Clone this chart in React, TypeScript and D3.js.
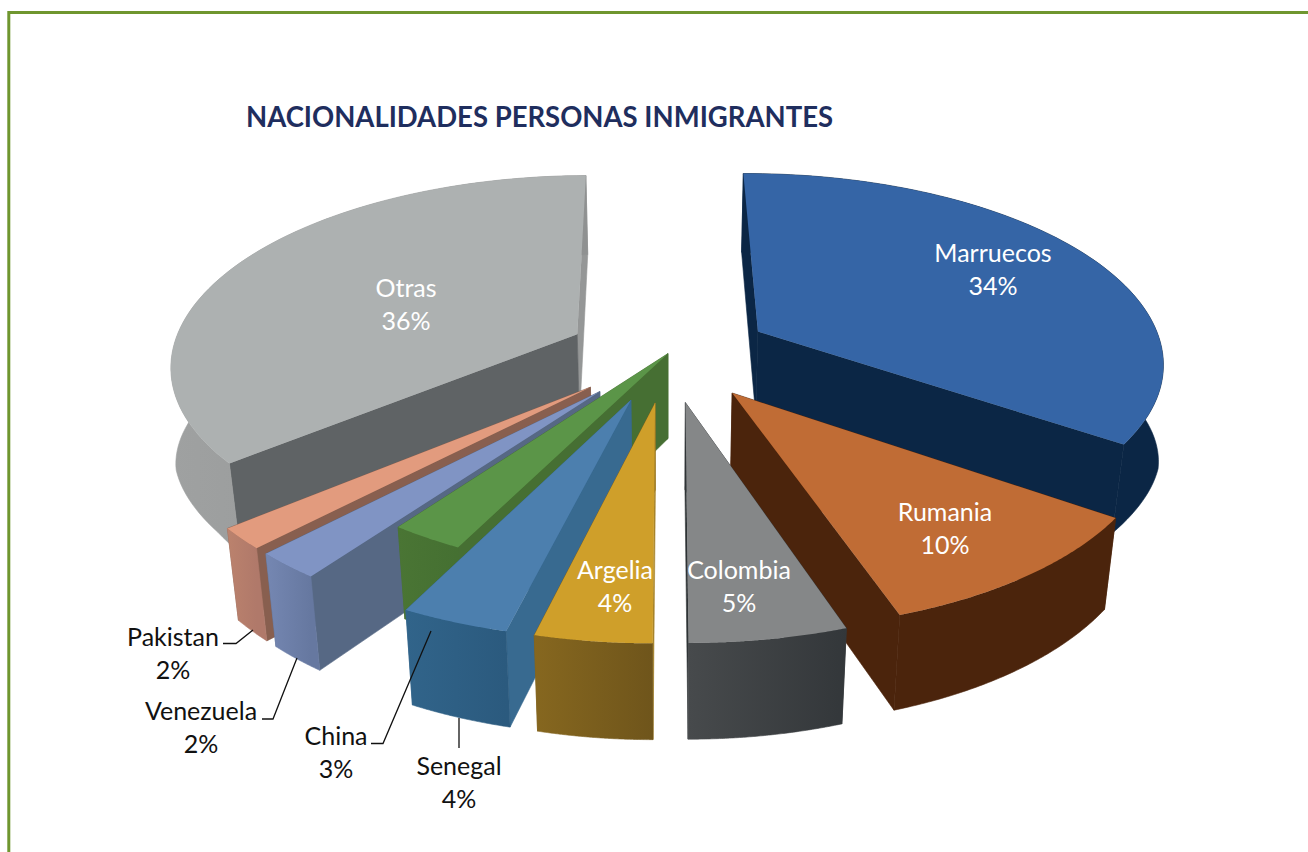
import React from "react";
import * as d3 from "d3";

// ---- data ----
const categories = ["Marruecos", "Rumania", "Colombia", "Argelia", "Senegal", "China", "Venezuela", "Pakistan", "Otras"];
const sliceShares = [34.8, 10.17, 5.17, 3.83, 3.56, 2.53, 2.22, 1.75, 35.97];
const percentLabels = ["34%", "10%", "5%", "4%", "4%", "3%", "2%", "2%", "36%"];
const explosion = [0.255, 0.255, 0.255, 0.255, 0.255, 0, 0.255, 0.255, 0.25];

// ---- styling ----
const topColors = ["#3565a6", "#c06c35", "#858788", "#cf9f2a", "#4c7fae", "#5b9548", "#8094c4", "#e29b7e", "#adb1b1"];
const startWallColors = ["#0b2645", "#4b240c", "#34383a", "#a8842a", "#386a90", "#466f33", "#566884", "#885f4f", "#5f6365"];
const endWallColors = ["#0b2645", "#4b240c", "#2f3436", "#7a5d1c", "#386a90", "#466f33", "#566884", "#885f4f", "#959797"];
const rimLeftColors = ["#0b2645", "#4b240c", "#474a4c", "#86671f", "#31648a", "#4a7534", "#7587b2", "#bb826d", "#9fa1a1"];
const rimRightColors = ["#0b2645", "#4b240c", "#33373a", "#6f551b", "#2b5a7e", "#457032", "#6678a0", "#b0796a", "#8f9191"];
const labelColors = ["#fff", "#fff", "#fff", "#fff", "#111", "#111", "#111", "#111", "#fff"];
const labelX = [993, 945, 739, 615, 459, 336, 201, 173, 406];
const labelY = [262, 521, 579, 579, 775, 745, 720, 646, 297];
const drawOrder = [8, 0, 7, 6, 5, 4, 3, 1, 2];
const leaders: [number, number][][] = [
  [[223, 643.5], [236, 643.5], [253, 630]],
  [[262, 719], [273, 719], [297, 658]],
  [[371, 743.5], [383, 743.5], [431, 631]],
  [[459, 718], [459, 748]],
];

// ---- projection of the tilted disc ----
const CX = 668, CY = 353.5, SX = 406, SY = 187.8, KP = 0.15, DEPTH = 85, SHRINK = 0.025, SIDE = 0.227;
const project = (x: number, y: number, z: number): [number, number] => {
  const w = 1 + KP * y;
  const side = x * x * Math.max(0, y + 0.45);
  const shrink = SHRINK * (1 - 0.6 * Math.min(1, side * 2));
  return [
    CX + ((SX * x) / w) * (1 - shrink * z),
    CY - (SY * y) / w + (z * DEPTH * (1 + SIDE * side)) / Math.pow(w, 0.6),
  ];
};
const line = d3.line();
const START = (-0.5 * Math.PI) / 180;

export default function App() {
  const arcs = d3.pie<number>().sort(null).startAngle(START).endAngle(START + 2 * Math.PI)(sliceShares);

  const slices = arcs.map((a, i) => {
    const mid = (a.startAngle + a.endAngle) / 2;
    const ox = explosion[i] * Math.sin(mid);
    const oy = explosion[i] * Math.cos(mid);
    const rimAt = (t: number, z: number) => project(ox + Math.sin(t), oy + Math.cos(t), z);
    const ts = d3.range(0, 81).map((k) => a.startAngle + ((a.endAngle - a.startAngle) * k) / 80);
    const apexT = project(ox, oy, 0);
    const apexB = project(ox, oy, 1);
    const rimT = ts.map((t) => rimAt(t, 0));
    const rimB = ts.map((t) => rimAt(t, 1));
    const xs = rimT.map((p) => p[0]);
    const first = rimT[0], last = rimT[rimT.length - 1];
    const startWall = line([apexT, first, rimB[0], apexB])! + "Z";
    const endWall = line([apexT, last, rimB[rimB.length - 1], apexB])! + "Z";
    const walls = [
      { d: startWall, color: startWallColors[i], y: first[1] },
      { d: endWall, color: endWallColors[i], y: last[1] },
    ].sort((p, q) => p.y - q.y);
    return {
      i,
      top: line([apexT, ...rimT])! + "Z",
      rim: line([...rimT, ...[...rimB].reverse()])! + "Z",
      walls,
      x0: d3.min(xs)!,
      x1: d3.max(xs)!,
    };
  });

  return (
    <svg
      width={1308}
      height={852}
      style={{ position: "fixed", left: 0, top: 0, background: "#fff" }}
      fontFamily="Lato, 'Open Sans', sans-serif"
    >
      <path d="M8.8,852V12.5H1308" fill="none" stroke="#6f962f" strokeWidth={3} />
      <text x={246} y={127} fontSize={28.5} fontWeight={700} fill="#1f2e5e" textLength={587} lengthAdjust="spacingAndGlyphs">
        NACIONALIDADES PERSONAS INMIGRANTES
      </text>
      <defs>
        {slices.map((s) => (
          <linearGradient key={s.i} id={`rim${s.i}`} gradientUnits="userSpaceOnUse" x1={s.x0} x2={s.x1} y1={0} y2={0}>
            <stop offset="0" stopColor={rimLeftColors[s.i]} />
            <stop offset="1" stopColor={rimRightColors[s.i]} />
          </linearGradient>
        ))}
      </defs>
      {drawOrder.map((idx) => {
        const s = slices[idx];
        return (
          <g key={idx}>
            {s.walls.map((w, k) => (
              <path key={k} d={w.d} fill={w.color} stroke={w.color} strokeWidth={0.6} />
            ))}
            <path d={s.rim} fill={`url(#rim${idx})`} stroke={`url(#rim${idx})`} strokeWidth={0.6} />
            <path d={s.top} fill={topColors[idx]} />
          </g>
        );
      })}
      {leaders.map((l, i) => (
        <path key={i} d={line(l)!} fill="none" stroke="#111" strokeWidth={1.3} />
      ))}
      {categories.map((c, i) => (
        <text key={c} x={labelX[i]} y={labelY[i]} textAnchor="middle" fontSize={25} fill={labelColors[i]}>
          <tspan x={labelX[i]}>{c}</tspan>
          <tspan x={labelX[i]} dy={32.5}>{percentLabels[i]}</tspan>
        </text>
      ))}
    </svg>
  );
}
